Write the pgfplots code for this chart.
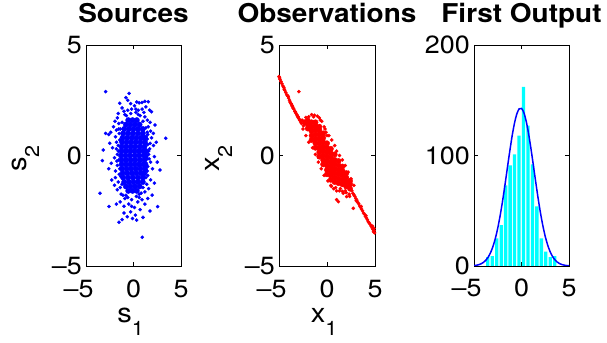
\documentclass[border=0pt]{standalone}
\usepackage{fontspec}
\setmainfont[FakeStretch=1.08]{TeX Gyre Heros}
\usepackage{pgfplots}
\pgfplotsset{compat=1.18}
\definecolor{mblue}{RGB}{0,0,255}
\definecolor{mred}{RGB}{255,0,0}
\definecolor{mcyan}{RGB}{0,255,255}
\newcommand{\sub}[2]{#1\raisebox{-13bp}{\fontsize{20}{20}\selectfont #2}}
\pgfplotsset{
  myaxis/.style={
    scale only axis, height=221bp, anchor=south west,
    xmin=-5, xmax=5, xtick={-5,0,5}, xticklabels={\llap{--}5,0,5},
    tick align=inside, major tick length=4bp,
    axis line style={line width=0.75bp, black},
    every tick/.style={black, line width=0.75bp},
    tick label style={font=\fontsize{25}{25}\selectfont, inner sep=0pt},
    xticklabel style={anchor=base, yshift=-31bp},
    yticklabel style={anchor=east, xshift=-4bp},
    every axis title/.style={at={(axis description cs:0.5,1)}, yshift=22bp, anchor=base, inner sep=0pt, font=\bfseries\fontsize{26}{26}\selectfont},
    every axis x label/.style={at={(axis description cs:0.5,0)}, yshift=-56bp, xshift=-3bp, anchor=base, inner sep=0pt, font=\fontsize{27}{27}\selectfont},
    every axis y label/.style={at={(axis description cs:0,0.5)}, xshift=-60bp, yshift=-3bp, rotate=90, anchor=base, inner sep=0pt, font=\fontsize{27}{27}\selectfont},
  },
  dots/.style={color=#1, only marks, mark=*, mark size=1.6bp},
  bigdots/.style={color=#1, only marks, mark=*, mark size=2.7bp},
}
\begin{document}
\begin{tikzpicture}
% ---------------- Sources ----------------
\begin{axis}[myaxis, at={(86bp,77bp)}, width=95bp,
  ymin=-5, ymax=5, ytick={-5,0,5}, yticklabels={--5,0,5},
  title={Sources}, xlabel={\sub{s}{1}}, ylabel={\sub{s}{2}}]
\addplot[bigdots=mblue] coordinates {
(-0.55,1.6)(-0.1,1.6)(0.35,1.6)
(-0.8,1.4)(-0.32,1.4)(0.16,1.4)(0.64,1.4)
(-0.98,1.2)(-0.49,1.2)(0,1.2)(0.49,1.2)(0.98,1.2)
(-1.09,1.0)(-0.57,1.0)(-0.06,1.0)(0.46,1.0)(0.98,1.0)
(-1.15,0.8)(-0.67,0.8)(-0.18,0.8)(0.3,0.8)(0.78,0.8)(1.15,0.8)
(-1.2,0.6)(-0.72,0.6)(-0.24,0.6)(0.24,0.6)(0.72,0.6)(1.2,0.6)
(-1.26,0.4)(-0.78,0.4)(-0.3,0.4)(0.18,0.4)(0.67,0.4)(1.15,0.4)
(-1.26,0.2)(-0.8,0.2)(-0.34,0.2)(0.11,0.2)(0.57,0.2)(1.03,0.2)(1.29,0.2)
(-1.32,0)(-0.84,0)(-0.36,0)(0.13,0)(0.61,0)(1.09,0)(1.3,0)
(-1.26,-0.2)(-0.78,-0.2)(-0.3,-0.2)(0.18,-0.2)(0.67,-0.2)(1.15,-0.2)
(-1.26,-0.4)(-0.8,-0.4)(-0.34,-0.4)(0.11,-0.4)(0.57,-0.4)(1.03,-0.4)(1.26,-0.4)
(-1.2,-0.6)(-0.72,-0.6)(-0.24,-0.6)(0.24,-0.6)(0.72,-0.6)(1.2,-0.6)
(-1.15,-0.8)(-0.67,-0.8)(-0.18,-0.8)(0.3,-0.8)(0.78,-0.8)(1.15,-0.8)
(-1.09,-1.0)(-0.57,-1.0)(-0.06,-1.0)(0.46,-1.0)(0.98,-1.0)
(-0.98,-1.2)(-0.49,-1.2)(0,-1.2)(0.49,-1.2)(0.98,-1.2)
(-0.8,-1.4)(-0.32,-1.4)(0.16,-1.4)(0.64,-1.4)
(-0.55,-1.6)(-0.1,-1.6)(0.35,-1.6)
};
\addplot[dots=mblue] coordinates {
(-2.93,2.89)(-0.47,2.81)(-0.8,2.62)(-0.6,2.5)(-0.3,2.35)(0.35,2.42)(0.6,2.38)(0.9,2.4)(1.2,2.45)(1.55,2.43)
(1.3,2.2)(1.7,2.05)(1.9,1.98)(-1.45,2.36)(-1.2,2.15)(-1.0,2.0)(-0.2,2.1)(0.1,2.25)(0.5,2.05)(0.9,2.1)
(1.1,1.95)(-1.6,1.9)(-0.6,2.05)(0.25,1.95)(-0.9,1.85)(0.7,1.8)(-0.3,1.9)
(-1.7,1.7)(-1.95,1.55)(-1.55,1.45)(-2.1,1.3)(-1.8,1.15)(-2.4,1.05)(-2.93,1.0)(-2.6,0.95)(-1.9,0.85)
(1.2,1.75)(1.45,1.6)(1.75,1.5)(1.55,1.3)(2.26,1.38)(2.09,1.0)(1.8,1.1)(1.5,0.95)(1.9,0.8)
(-1.4,1.2)(1.3,1.25)(-1.5,1.0)(1.35,0.85)(-1.2,1.5)(1.0,1.55)
(-3.18,0.25)(-3.28,-0.23)(-2.5,0.55)(-2.2,0.35)(-1.8,0.6)(-1.6,0.2)(-2.0,-0.1)(-2.35,-0.35)(-1.7,-0.45)
(-1.9,-0.7)(-2.6,-0.6)(-1.55,-0.2)(-1.6,0.45)(1.5,0.5)(1.7,0.3)(2.1,0.45)(2.4,0.6)(1.6,0.05)(2.2,-0.05)
(1.8,-0.3)(2.5,-0.3)(2.79,-0.66)(2.0,-0.6)(1.5,-0.5)(3.39,0.78)(1.45,-0.15)(1.45,0.75)(-1.45,0.7)(-1.45,-0.6)
(-2.29,-1.11)(-1.9,-1.0)(-1.6,-1.2)(-2.0,-1.35)(-1.7,-1.55)(-1.4,-1.45)(-3.53,-1.71)(-1.3,-1.75)
(1.5,-0.9)(1.8,-1.1)(1.4,-1.3)(1.96,-1.79)(1.6,-1.5)(1.2,-1.65)(2.2,-1.25)(1.3,-1.0)(-1.35,-0.95)(-1.2,-1.3)(1.0,-1.45)
(-2.58,-2.31)(-1.53,-3.02)(-1.2,-2.9)(-1.0,-2.6)(-0.65,-2.77)(0.33,-2.92)(0.93,-3.70)(1.74,-2.51)(2.54,-2.31)
(-1.8,-2.2)(-1.4,-2.1)(-0.9,-1.95)(-0.5,-2.2)(-0.2,-2.0)(0.1,-2.35)(0.45,-2.1)(0.7,-2.45)(0.9,-2.0)(1.2,-2.2)
(1.5,-1.95)(-0.3,-2.55)(0.2,-2.7)(-1.0,-2.3)(0.6,-1.9)(-0.6,-1.9)(1.0,-2.8)(-0.1,-2.85)(-1.1,-1.8)(0.3,-1.85)(0.8,-1.7)
(-1.7,0.05)(-1.75,-0.25)(1.6,0.2)(1.65,-0.15)(-1.55,1.2)(1.45,1.05)(-1.5,-0.85)(1.45,-0.7)(-0.75,1.8)(0.5,1.85)
(-0.8,-1.8)(0.6,-1.75)(-1.8,0.3)(1.75,0.55)(-0.2,-2.3)(0.25,2.1)
};
\end{axis}
% ---------------- Observations ----------------
\begin{axis}[myaxis, at={(279bp,77bp)}, width=96bp,
  ymin=-5, ymax=5, ytick={-5,0,5}, yticklabels={--5,0,5},
  title={Observations}, xlabel={\sub{x}{1}}, ylabel={\sub{x}{2}}]
\addplot[bigdots=mred] coordinates {
(-2.3,1.5)
(-2.0,1.22)(-2.0,1.4)(-2.0,1.58)
(-1.6,0.7)(-1.6,0.9)(-1.6,1.1)(-1.6,1.3)(-1.6,1.5)
(-1.2,0.35)(-1.2,0.55)(-1.2,0.75)(-1.2,0.95)(-1.2,1.15)(-1.2,1.35)(-1.2,1.5)
(-0.8,-0.05)(-0.8,0.15)(-0.8,0.35)(-0.8,0.55)(-0.8,0.75)(-0.8,0.95)(-0.8,1.15)(-0.8,1.3)
(-0.4,-0.4)(-0.4,-0.2)(-0.4,0)(-0.4,0.2)(-0.4,0.4)(-0.4,0.6)(-0.4,0.8)(-0.4,1.0)
(0,-0.85)(0,-0.65)(0,-0.45)(0,-0.25)(0,-0.05)(0,0.15)(0,0.35)(0,0.55)
(0.4,-1.1)(0.4,-0.9)(0.4,-0.7)(0.4,-0.5)(0.4,-0.3)(0.4,-0.1)(0.4,0.1)(0.4,0.3)
(0.8,-1.2)(0.8,-1.0)(0.8,-0.8)(0.8,-0.6)(0.8,-0.4)(0.8,-0.2)(0.8,0.05)
(1.2,-1.25)(1.2,-1.05)(1.2,-0.85)(1.2,-0.65)(1.2,-0.45)(1.2,-0.25)
(1.6,-1.3)(1.6,-1.1)(1.6,-0.9)(1.6,-0.7)(1.6,-0.5)
(2.0,-1.4)(2.0,-1.2)(2.0,-1.0)(2.0,-0.8)
(2.4,-1.5)(2.4,-1.3)(2.4,-1.15)
};
\addplot[dots=mred] coordinates {
(-5.0,3.57)(-4.95,3.52)(-4.9,3.45)(-4.8,3.35)(-4.7,3.25)(-4.6,3.15)(-4.5,3.08)(-4.4,2.95)(-4.3,2.85)(-4.2,2.75)
(-4.1,2.7)(-4.0,2.6)(-3.9,2.5)(-3.85,2.42)(-3.75,2.35)(-3.65,2.25)(-3.55,2.15)(-3.45,2.1)(-3.35,2.0)(-3.25,1.92)
(-3.15,1.85)(-3.05,1.75)(-2.95,1.68)(-2.85,1.6)(-2.75,1.52)(-2.65,1.45)
(-4.45,3.0)(-4.05,2.68)(-3.7,2.32)(-3.3,1.98)(-3.0,1.74)(-2.8,1.6)(-3.6,2.22)(-3.1,1.8)(-2.92,2.89)
(-1.6,1.85)(-1.3,1.82)(-1.0,1.78)(-0.8,1.7)(-1.9,1.75)(-2.2,1.72)(-0.55,1.55)(-0.3,1.3)(-0.1,1.05)(0.2,0.9)
(0.5,0.7)(0.8,0.45)(1.0,0.2)(1.3,0.0)(1.6,-0.2)(1.9,-0.45)(2.2,-0.75)(2.5,-1.05)(2.8,-1.35)
(-2.5,1.2)(-2.2,0.9)(-1.9,0.6)(-1.5,0.35)(-1.2,0.05)(-0.9,-0.3)(-0.6,-0.6)(-0.3,-0.9)(0.1,-1.15)(0.4,-1.35)
(0.7,-1.5)(1.0,-1.6)(1.3,-1.6)(1.6,-1.62)(2.0,-1.68)(2.3,-1.75)(0.9,-1.45)(1.4,-1.5)
(-2.4,1.55)(-2.6,1.6)(-2.45,1.35)(0.0,0.9)(-0.2,1.2)(0.45,-1.4)(-1.4,1.75)(-0.7,1.6)
(2.6,-1.6)(2.7,-1.72)(2.8,-1.78)(2.9,-1.85)(3.0,-1.95)(3.1,-2.02)(3.2,-2.12)(3.3,-2.18)(3.4,-2.28)(3.5,-2.35)
(3.6,-2.42)(3.7,-2.5)(3.8,-2.6)(3.9,-2.66)(4.0,-2.75)(4.1,-2.82)(4.2,-2.9)(4.3,-3.0)(4.4,-3.05)(4.5,-3.12)
(4.6,-3.2)(4.7,-3.28)(4.8,-3.35)(4.85,-3.45)(4.9,-3.4)(4.95,-3.5)(4.75,-3.2)(4.9,-3.3)
(3.05,-2.05)(3.55,-2.3)(4.05,-2.72)(1.18,-2.09)(2.74,-2.39)(2.05,-1.86)(1.7,-1.71)(2.35,-1.85)(1.0,-2.0)(1.9,-1.6)
};
\end{axis}
% ---------------- First Output ----------------
\begin{axis}[myaxis, at={(474bp,77bp)}, width=95bp,
  ymin=0, ymax=200, ytick={0,100,200}, yticklabels={0,100,200},
  title={First Output}]
\addplot[ybar, bar width=0.35, fill=mcyan, draw=none] coordinates {
(-3.55,8)(-3.08,9)(-2.61,25)(-2.14,37)(-1.67,73)(-1.20,91)(-0.73,101)(-0.26,118)
(0.21,162)(0.68,127)(1.15,92)(1.62,54)(2.09,25)(2.56,13)(3.03,8)(3.50,9)
};
\addplot[mblue, line width=1.5bp, smooth] coordinates {
(-5,0.37)(-4.75,0.67)(-4.5,1.18)(-4.25,2.0)(-4,3.29)(-3.75,5.26)(-3.5,8.14)(-3.25,12.2)(-3,17.8)(-2.75,25.1)
(-2.5,34.3)(-2.25,45.5)(-2,58.4)(-1.75,72.8)(-1.5,88.0)(-1.25,103.0)(-1,117.0)(-0.75,128.8)(-0.5,137.4)(-0.25,142.2)
(0,142.6)(0.25,138.7)(0.5,130.8)(0.75,119.5)(1,105.9)(1.25,91.0)(1.5,75.8)(1.75,61.2)(2,47.9)(2.25,36.4)
(2.5,26.7)(2.75,19.1)(3,13.2)(3.25,8.85)(3.5,5.75)(3.75,3.62)(4,2.21)(4.25,1.31)(4.5,0.75)(4.75,0.42)(5,0.23)
};
\end{axis}
\pgfresetboundingbox
\useasboundingbox (0,0) rectangle (607bp,343bp);
\end{tikzpicture}
\end{document}
